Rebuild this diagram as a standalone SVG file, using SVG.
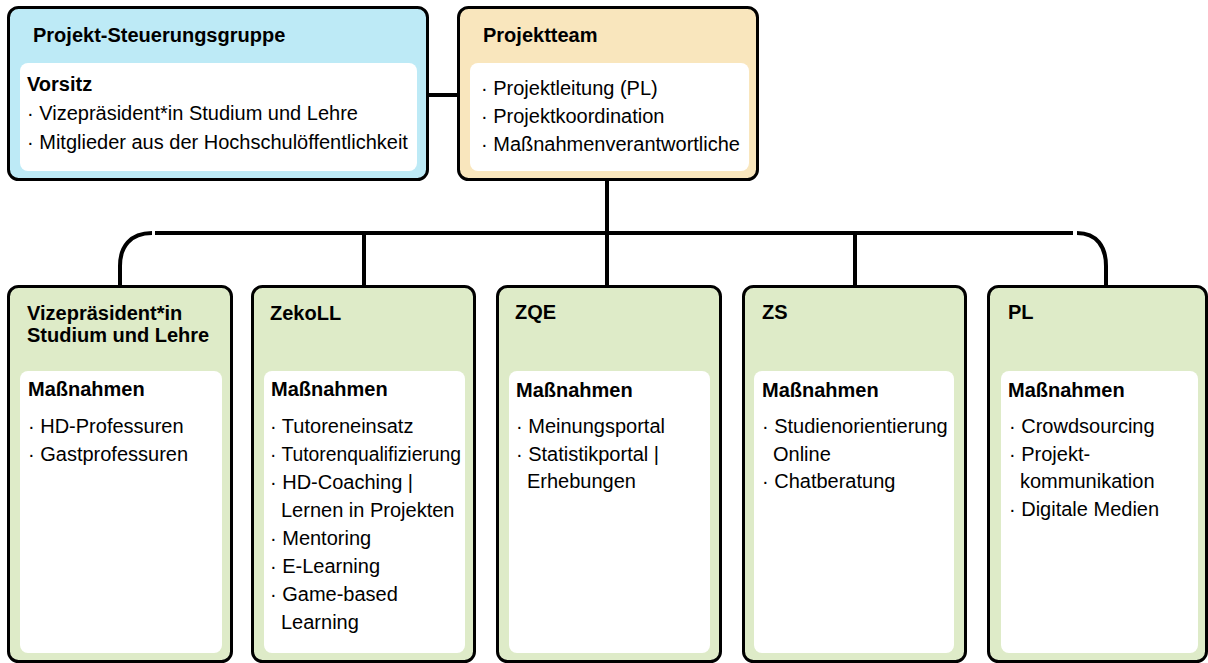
<svg xmlns="http://www.w3.org/2000/svg" width="1208" height="663" viewBox="0 0 1208 663">
<style>
.outer{stroke:#000;stroke-width:3}
.blue{fill:#bdeaf6}
.yellow{fill:#f9e6bd}
.green{fill:#deebc8}
.inner{fill:#fff}
.t{font-family:"Liberation Sans",Arial,sans-serif;font-size:20px;fill:#000}
.b{font-weight:bold}
.conn{fill:none;stroke:#000;stroke-width:4}
</style>
<rect width="1208" height="663" fill="#fff"/>
<g id="connectors">
<line class="conn" x1="428" y1="95" x2="458" y2="95"/>
<line class="conn" x1="607" y1="180" x2="607" y2="286"/>
<line class="conn" x1="155" y1="233" x2="1073" y2="233"/>
<path class="conn" d="M152,233 C130,233 120,247 120,266 L120,286"/>
<path class="conn" d="M1077,233 C1097,233 1106,247 1106,266 L1106,286"/>
<line class="conn" x1="364" y1="233" x2="364" y2="286"/>
<line class="conn" x1="855" y1="233" x2="855" y2="286"/>
</g>
<g id="steuerungsgruppe">
<rect class="outer blue" x="8.5" y="7.5" width="419" height="172" rx="10"/>
<rect class="inner" x="20" y="63" width="397" height="108" rx="8"/>
<text class="t b" x="33" y="42">Projekt-Steuerungsgruppe</text>
<text class="t b" x="27" y="91">Vorsitz</text>
<text class="t" x="27" y="120">· Vizepräsident*in Studium und Lehre</text>
<text class="t" x="27" y="149">· Mitglieder aus der Hochschulöffentlichkeit</text>
</g>
<g id="projektteam">
<rect class="outer yellow" x="458.5" y="7.5" width="299" height="172" rx="10"/>
<rect class="inner" x="470" y="63" width="279" height="108" rx="8"/>
<text class="t b" x="483" y="42">Projektteam</text>
<text class="t" x="481" y="95">· Projektleitung (PL)</text>
<text class="t" x="481" y="123">· Projektkoordination</text>
<text class="t" x="481" y="151">· Maßnahmenverantwortliche</text>
</g>
<g id="vizepraesident">
<rect class="outer green" x="8.5" y="286.5" width="223" height="375" rx="10"/>
<rect class="inner" x="20" y="371" width="202" height="282" rx="8"/>
<text class="t b" x="27" y="320">Vizepräsident*in</text>
<text class="t b" x="27" y="342">Studium und Lehre</text>
<text class="t b" x="28" y="396">Maßnahmen</text>
<text class="t" x="28" y="433">· HD-Professuren</text>
<text class="t" x="28" y="461">· Gastprofessuren</text>
</g>
<g id="zekoll">
<rect class="outer green" x="252.5" y="286.5" width="222" height="375" rx="10"/>
<rect class="inner" x="264" y="371" width="201" height="282" rx="8"/>
<text class="t b" x="270" y="320">ZekoLL</text>
<text class="t b" x="271" y="396">Maßnahmen</text>
<text class="t" x="270" y="433">· Tutoreneinsatz</text>
<text class="t" x="270" y="461" textLength="191" lengthAdjust="spacingAndGlyphs">· Tutorenqualifizierung</text>
<text class="t" x="270" y="489">· HD-Coaching |</text>
<text class="t" x="281" y="517">Lernen in Projekten</text>
<text class="t" x="270" y="545">· Mentoring</text>
<text class="t" x="270" y="573">· E-Learning</text>
<text class="t" x="270" y="601">· Game-based</text>
<text class="t" x="281" y="629">Learning</text>
</g>
<g id="zqe">
<rect class="outer green" x="497.5" y="286.5" width="223" height="375" rx="10"/>
<rect class="inner" x="509" y="371" width="201" height="282" rx="8"/>
<text class="t b" x="515" y="319">ZQE</text>
<text class="t b" x="516" y="397">Maßnahmen</text>
<text class="t" x="516" y="433">· Meinungsportal</text>
<text class="t" x="516" y="461">· Statistikportal |</text>
<text class="t" x="527" y="488">Erhebungen</text>
</g>
<g id="zs">
<rect class="outer green" x="743.5" y="286.5" width="222" height="375" rx="10"/>
<rect class="inner" x="754" y="371" width="200" height="282" rx="8"/>
<text class="t b" x="762" y="319">ZS</text>
<text class="t b" x="762" y="397">Maßnahmen</text>
<text class="t" x="762" y="433">· Studienorientierung</text>
<text class="t" x="773" y="461">Online</text>
<text class="t" x="762" y="488">· Chatberatung</text>
</g>
<g id="pl">
<rect class="outer green" x="988.5" y="286.5" width="218" height="375" rx="10"/>
<rect class="inner" x="1001" y="371" width="197" height="282" rx="8"/>
<text class="t b" x="1008" y="319">PL</text>
<text class="t b" x="1008" y="397">Maßnahmen</text>
<text class="t" x="1009" y="433">· Crowdsourcing</text>
<text class="t" x="1009" y="461">· Projekt-</text>
<text class="t" x="1020" y="488">kommunikation</text>
<text class="t" x="1009" y="516">· Digitale Medien</text>
</g>
</svg>
